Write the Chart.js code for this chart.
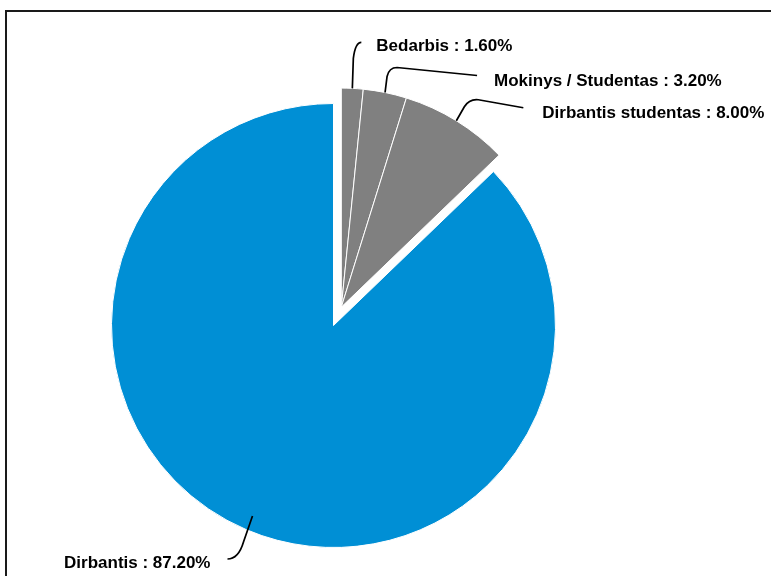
<!DOCTYPE html>
<html>
<head>
<meta charset="utf-8">
<script src="https://cdn.jsdelivr.net/npm/chart.js@4.4.0/dist/chart.umd.min.js"></script>
<style>
    body { margin: 0; background: #fff; }
    #wrap { position: relative; width: 771px; height: 576px; }
    #frame {
        position: absolute; left: 5px; top: 10px; right: 0; bottom: 0;
        border-left: 2px solid #1a1a1a; border-top: 2px solid #1a1a1a;
        pointer-events: none;
    }
</style>
</head>
<body>
<div id="wrap">
    <canvas id="pieChart" width="771" height="576"></canvas>
    <div id="frame"></div>
</div>
<script>
const categories = ['Bedarbis', 'Mokinys / Studentas', 'Dirbantis studentas', 'Dirbantis'];
const shares = [1.6, 3.2, 8.0, 87.2];
const sliceColors = ['#808080', '#808080', '#808080', '#008fd5'];

// the three grey slices are pulled out together as one wedge
const explodedGroup = [0, 1, 2];
const explodeDistance = 20;
const explodeShrink = 3;

// leader line shapes, relative to where the line leaves the slice:
// [p1x, p1y, ctrlx, ctrly, p2x, p2y, endx, endy, textx, texty, align, inset]
const leaders = [
    [1, -30, 3, -46, 9, -46, 9, -46, 24, -42, 'left', 0],
    [2, -16, 4, -25, 12, -25, 92, -17, 109, -11, 'left', 0],
    [8, -14, 13, -22, 22, -21, 67, -13, 86, -7, 'left', 0],
    [-9, 26, -14, 43, -25, 43, -25, 43, -42, 47, 'right', 15]
];

function groupOffset(arcs) {
    const first = arcs[explodedGroup[0]];
    const last = arcs[explodedGroup[explodedGroup.length - 1]];
    const mid = (first.startAngle + last.endAngle) / 2;
    return { dx: Math.cos(mid) * explodeDistance, dy: Math.sin(mid) * explodeDistance };
}

const explodePlugin = {
    id: 'explodeGroup',
    beforeDatasetsDraw(chart) {
        const arcs = chart.getDatasetMeta(0).data;
        const base = arcs[3];
        const off = groupOffset(arcs);
        explodedGroup.forEach(i => {
            arcs[i].x = base.x + off.dx;
            arcs[i].y = base.y + off.dy;
            arcs[i].outerRadius = base.outerRadius - explodeShrink;
        });
    }
};

const labelPlugin = {
    id: 'leaderLabels',
    afterDatasetsDraw(chart) {
        const ctx = chart.ctx;
        const arcs = chart.getDatasetMeta(0).data;
        ctx.save();
        ctx.strokeStyle = '#000';
        ctx.lineWidth = 1.7;
        ctx.fillStyle = '#000';
        ctx.font = 'bold 17px "Liberation Sans", Arial, sans-serif';
        ctx.textBaseline = 'middle';
        arcs.forEach((arc, i) => {
            const l = leaders[i];
            const mid = (arc.startAngle + arc.endAngle) / 2;
            const r = arc.outerRadius - l[11];
            const sx = arc.x + Math.cos(mid) * r;
            const sy = arc.y + Math.sin(mid) * r;
            ctx.beginPath();
            ctx.moveTo(sx, sy);
            ctx.lineTo(sx + l[0], sy + l[1]);
            ctx.quadraticCurveTo(sx + l[2], sy + l[3], sx + l[4], sy + l[5]);
            ctx.lineTo(sx + l[6], sy + l[7]);
            ctx.stroke();
            ctx.textAlign = l[10];
            ctx.fillText(categories[i] + ' : ' + shares[i].toFixed(2) + '%', sx + l[8], sy + l[9]);
        });
        ctx.restore();
    }
};

new Chart(document.getElementById('pieChart'), {
    type: 'pie',
    data: {
        labels: categories,
        datasets: [{
            data: shares,
            backgroundColor: sliceColors,
            borderColor: '#ffffff',
            borderWidth: 1
        }]
    },
    options: {
        responsive: false,
        animation: false,
        layout: { padding: { left: 111, right: 215, top: 103, bottom: 28 } },
        plugins: {
            legend: { display: false },
            tooltip: { enabled: false }
        }
    },
    plugins: [explodePlugin, labelPlugin]
});
</script>
</body>
</html>
